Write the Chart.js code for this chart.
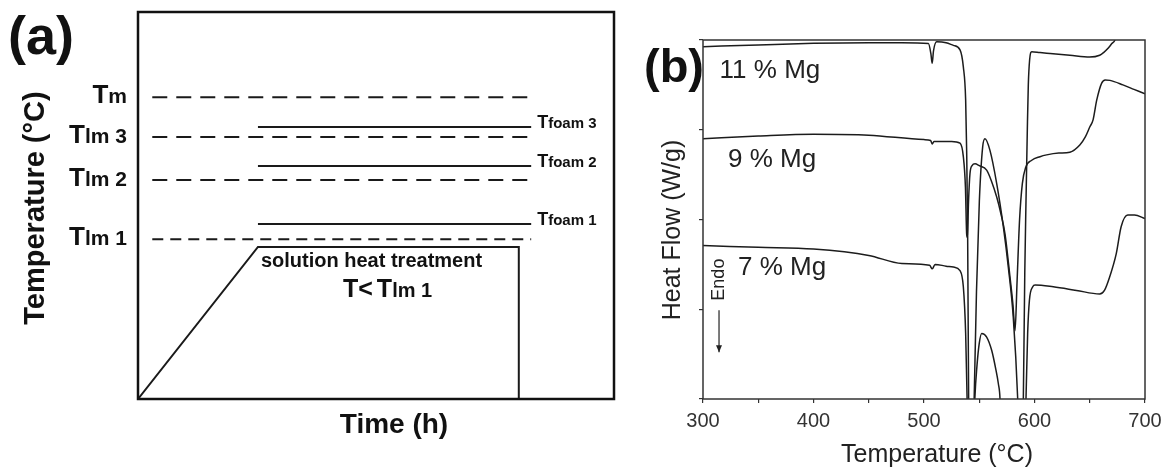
<!DOCTYPE html>
<html>
<head>
<meta charset="utf-8">
<script src="https://cdn.jsdelivr.net/npm/chart.js@4.4.0/dist/chart.umd.min.js"></script>
<style>
  html, body { margin: 0; padding: 0; background: #fff; }
  #wrap { position: relative; width: 1170px; height: 473px; }
  canvas { position: absolute; top: 0; }
  #chartA { left: 0; }
  #chartB { left: 620px; }
</style>
</head>
<body>
<div id="wrap">
  <canvas id="chartA" width="620" height="473"></canvas>
  <canvas id="chartB" width="550" height="473"></canvas>
</div>
<script>
const FAM = '"Liberation Sans", Arial, sans-serif';

/* (a) schematic, time and temperature in relative units 0-100 */
const rampTime = [0, 25.2, 80, 80];
const rampTemp = [0, 39.3, 39.3, 0];
const meltNames = ["m", "lm 3", "lm 2", "lm 1"];
const meltTemps = [78.0, 67.7, 56.6, 41.3];
const foamNames = ["foam 3", "foam 2", "foam 1"];
const foamTemps = [70.3, 60.2, 45.2];
const levelStart = 3;
const foamStart = 25.2;
const levelEnd = 82.6;
// dash pattern of each melt line (the lowest one is finer)
const meltDash = [[15, 9], [15, 9], [15, 9], [11, 7]];

/* (b) DSC curves: temperature (°C) and heat flow (arbitrary, ticks 0-4) */
const temp11 = [300, 350, 400, 450, 480, 504, 506.2, 507.4, 508.6, 511.5, 520, 526.6, 532.6, 535.6, 537.7,
  538.6, 539.5, 540.4, 540.9, 545, 545.4, 547.5, 550.1, 553.1, 555.2, 559.7, 565.8, 571.8, 576.3, 580.8,
  584.8, 585.3, 589.3, 589.9, 591.2, 592.3, 593.5, 594.4, 595.6, 597.5, 605, 614, 632, 650, 659,
  662.5, 666.8, 670, 672.8, 676];
const flow11 = [3.926, 3.945, 3.963, 3.97, 3.97, 3.96, 3.85, 3.74, 3.88, 3.98, 3.97, 3.94, 3.89, 3.70, 3.33,
  2.77, 1.84, 0, -0.2, -0.2, 0, 1.2, 2.21, 2.81, 2.90, 2.77, 2.40, 1.92, 1.47, 0.91,
  0, -0.2, -0.2, 0, 1.4, 2.2, 3.0, 3.5, 3.78, 3.87, 3.86, 3.85, 3.83, 3.81, 3.83,
  3.86, 3.91, 3.96, 4.0, 4.15];

const temp9 = [300, 350, 400, 450, 500, 506, 507.5, 509, 515, 525, 532.6, 535.6, 537.5, 538.6, 539.3,
  540.3, 541.6, 543.5, 546.2, 550, 556.7, 561, 565.8, 569.5, 573.3, 577.8, 580.5, 582.4, 584.2, 586.5,
  589, 592, 597.5, 605, 611, 622, 632, 641, 646, 650, 653, 656.3, 660.8, 664, 668.3, 680, 690, 700];
const flow9 = [2.90, 2.93, 2.95, 2.94, 2.89, 2.88, 2.84, 2.87, 2.87, 2.87, 2.85, 2.70, 2.36, 1.84, 1.80,
  2.2, 2.51, 2.60, 2.62, 2.60, 2.55, 2.43, 2.25, 2.07, 1.84, 1.36, 1.05, 0.76, 1.3, 2.0,
  2.4, 2.58, 2.66, 2.70, 2.72, 2.74, 2.75, 2.83, 2.92, 3.03, 3.11, 3.33, 3.52, 3.555, 3.55, 3.50, 3.45, 3.40];

const temp7 = [300, 350, 400, 450, 480, 505, 507.5, 510, 520, 526.6, 532.6, 535.6, 537.7, 539, 539.5,
  545.5, 546, 548, 550, 552.2, 556.7, 561.3, 565, 567.3, 568.8, 569.3, 591.8, 592.3, 593.8, 595.4,
  598.4, 600.5, 617, 638, 659, 663.3, 668, 674, 678.4, 684.4, 690.5, 700];
const flow7 = [1.71, 1.69, 1.67, 1.60, 1.51, 1.49, 1.45, 1.50, 1.48, 1.47, 1.43, 1.25, 0.73, 0, -0.2,
  -0.2, 0, 0.38, 0.62, 0.73, 0.69, 0.54, 0.33, 0.17, 0, -0.2, -0.2, 0, 0.73, 1.10,
  1.25, 1.27, 1.25, 1.21, 1.17, 1.21, 1.36, 1.62, 1.92, 2.05, 2.05, 2.01];

const sampleNames = ["11 % Mg", "9 % Mg", "7 % Mg"];
const xTicks = [300, 400, 500, 600, 700];

// where the sample names sit (in data units)
const nameAt = [[315, 3.58], [322.6, 2.585], [331.7, 1.38]];

function pts(xs, ys) {
  return xs.map((v, i) => ({ x: v, y: ys[i] }));
}

// ---------- panel (a) ----------
const lineA = { borderColor: '#1a1a1a', borderWidth: 2, pointRadius: 0, tension: 0, fill: false };
const setsA = [Object.assign({ data: pts(rampTime, rampTemp) }, lineA)];
meltTemps.forEach((t, i) => {
  setsA.push(Object.assign({ data: pts([levelStart, levelEnd], [t, t]), borderDash: meltDash[i] }, lineA));
});
foamTemps.forEach(t => {
  setsA.push(Object.assign({ data: pts([foamStart, levelEnd], [t, t]) }, lineA));
});

const panelA = {
  id: 'panelA',
  afterDatasetsDraw(chart) {
    const { ctx, chartArea: a, scales: { x, y } } = chart;
    ctx.save();
    ctx.strokeStyle = '#111';
    ctx.lineWidth = 2.5;
    ctx.strokeRect(a.left, a.top, a.right - a.left, a.bottom - a.top);

    ctx.fillStyle = '#111';
    ctx.textBaseline = 'alphabetic';
    ctx.textAlign = 'left';

    // T_m / T_lm labels, right aligned left of the box
    meltNames.forEach((s, i) => {
      const yy = y.getPixelForValue(meltTemps[i]) + 6;
      const right = a.left - 11;
      ctx.font = 'bold 21px ' + FAM;
      const w = ctx.measureText(s).width;
      ctx.fillText(s, right - w, yy);
      ctx.font = 'bold 26px ' + FAM;
      const wT = ctx.measureText('T').width;
      ctx.fillText('T', right - w - wT, yy);
    });

    // T_foam labels at the end of the solid lines
    foamNames.forEach((s, i) => {
      const yy = y.getPixelForValue(foamTemps[i]) + 1;
      const xx = x.getPixelForValue(levelEnd) + 6;
      ctx.font = 'bold 18px ' + FAM;
      const wT = ctx.measureText('T').width;
      ctx.fillText('T', xx, yy);
      ctx.font = 'bold 15px ' + FAM;
      ctx.fillText(s, xx + wT, yy);
    });

    // plateau text
    const px = x.getPixelForValue(foamStart) + 3;
    const py = y.getPixelForValue(rampTemp[1]);
    ctx.font = 'bold 20px ' + FAM;
    ctx.fillText('solution heat treatment', px, py + 20);
    let cx = 343;
    ctx.font = 'bold 25px ' + FAM;
    ctx.fillText('T<', cx, py + 50);
    cx += ctx.measureText('T<').width + 4;
    ctx.fillText('T', cx, py + 50);
    cx += ctx.measureText('T').width;
    ctx.font = 'bold 20px ' + FAM;
    ctx.fillText('lm 1', cx, py + 50);

    // axis titles and panel letter
    ctx.font = 'bold 28px ' + FAM;
    ctx.textAlign = 'center';
    ctx.fillText('Time (h)', 394, 433);
    ctx.save();
    ctx.translate(36, 208);
    ctx.rotate(-Math.PI / 2);
    ctx.font = 'bold 29px ' + FAM;
    ctx.textBaseline = 'middle';
    ctx.fillText('Temperature (°C)', 0, 0);
    ctx.restore();
    ctx.textAlign = 'left';
    ctx.font = 'bold 54px ' + FAM;
    ctx.fillText('(a)', 8, 54);
    ctx.restore();
  }
};

new Chart(document.getElementById('chartA'), {
  type: 'line',
  data: { datasets: setsA },
  options: {
    responsive: false,
    animation: false,
    layout: { padding: { left: 138, right: 6, top: 12, bottom: 74 } },
    plugins: { legend: { display: false }, tooltip: { enabled: false } },
    scales: {
      x: { type: 'linear', min: 0, max: 100, display: false },
      y: { type: 'linear', min: 0, max: 100, display: false }
    }
  },
  plugins: [panelA]
});

// ---------- panel (b) ----------
const lineB = {
  borderColor: '#1c1c1c', borderWidth: 1.5, pointRadius: 0,
  cubicInterpolationMode: 'monotone', fill: false
};
const setsB = [
  Object.assign({ label: sampleNames[0], data: pts(temp11, flow11) }, lineB),
  Object.assign({ label: sampleNames[1], data: pts(temp9, flow9) }, lineB),
  Object.assign({ label: sampleNames[2], data: pts(temp7, flow7) }, lineB)
];

const panelB = {
  id: 'panelB',
  afterDraw(chart) {
    const { ctx, chartArea: a, scales: { x, y } } = chart;
    ctx.save();
    ctx.strokeStyle = '#333';
    ctx.lineWidth = 1.5;
    ctx.strokeRect(a.left, a.top, a.right - a.left, a.bottom - a.top);

    ctx.fillStyle = '#222';
    ctx.textAlign = 'left';
    ctx.textBaseline = 'alphabetic';
    ctx.font = '26px ' + FAM;
    sampleNames.forEach((s, i) => {
      ctx.fillText(s, x.getPixelForValue(nameAt[i][0]), y.getPixelForValue(nameAt[i][1]));
    });

    // Endo marker
    const ex = x.getPixelForValue(314.5);
    ctx.save();
    ctx.translate(ex, y.getPixelForValue(1.33));
    ctx.rotate(-Math.PI / 2);
    ctx.font = '18px ' + FAM;
    ctx.textAlign = 'center';
    ctx.textBaseline = 'middle';
    ctx.fillText('Endo', 0, 0);
    ctx.restore();
    const y0 = y.getPixelForValue(0.99), y1 = y.getPixelForValue(0.52);
    ctx.strokeStyle = '#222';
    ctx.lineWidth = 1.2;
    ctx.beginPath();
    ctx.moveTo(ex, y0);
    ctx.lineTo(ex, y1);
    ctx.stroke();
    ctx.beginPath();
    ctx.moveTo(ex - 3, y1 - 7);
    ctx.lineTo(ex + 3, y1 - 7);
    ctx.lineTo(ex, y1);
    ctx.closePath();
    ctx.fill();

    // axis titles and panel letter
    ctx.font = '25px ' + FAM;
    ctx.textAlign = 'center';
    ctx.textBaseline = 'middle';
    ctx.fillText('Temperature (°C)', 317, 455);
    ctx.save();
    ctx.translate(53, 230);
    ctx.rotate(-Math.PI / 2);
    ctx.fillText('Heat Flow (W/g)', 0, 0);
    ctx.restore();
    ctx.fillStyle = '#111';
    ctx.textAlign = 'left';
    ctx.textBaseline = 'alphabetic';
    ctx.font = 'bold 47px ' + FAM;
    ctx.fillText('(b)', 24, 82);
    ctx.restore();
  }
};

new Chart(document.getElementById('chartB'), {
  type: 'line',
  data: { datasets: setsB },
  options: {
    responsive: false,
    animation: false,
    layout: { padding: { left: 0, right: 25, top: 40, bottom: 0 } },
    plugins: { legend: { display: false }, tooltip: { enabled: false } },
    scales: {
      x: {
        type: 'linear', min: 300, max: 700,
        afterFit: s => { s.height = 74; },
        ticks: {
          stepSize: 50, autoSkip: false, maxRotation: 0, padding: 6, color: '#333',
          font: { family: FAM, size: 20 },
          callback: v => (xTicks.includes(v) ? v : '')
        },
        grid: { drawOnChartArea: false, drawTicks: true, tickLength: 4, color: '#333', lineWidth: 1.2 },
        border: { display: false }
      },
      y: {
        type: 'linear', min: 0, max: 4,
        afterFit: s => { s.width = 83; },
        ticks: { display: false, stepSize: 1 },
        grid: { drawOnChartArea: false, drawTicks: true, tickLength: 4, color: '#333', lineWidth: 1.2 },
        border: { display: false }
      }
    }
  },
  plugins: [panelB]
});
</script>
</body>
</html>
